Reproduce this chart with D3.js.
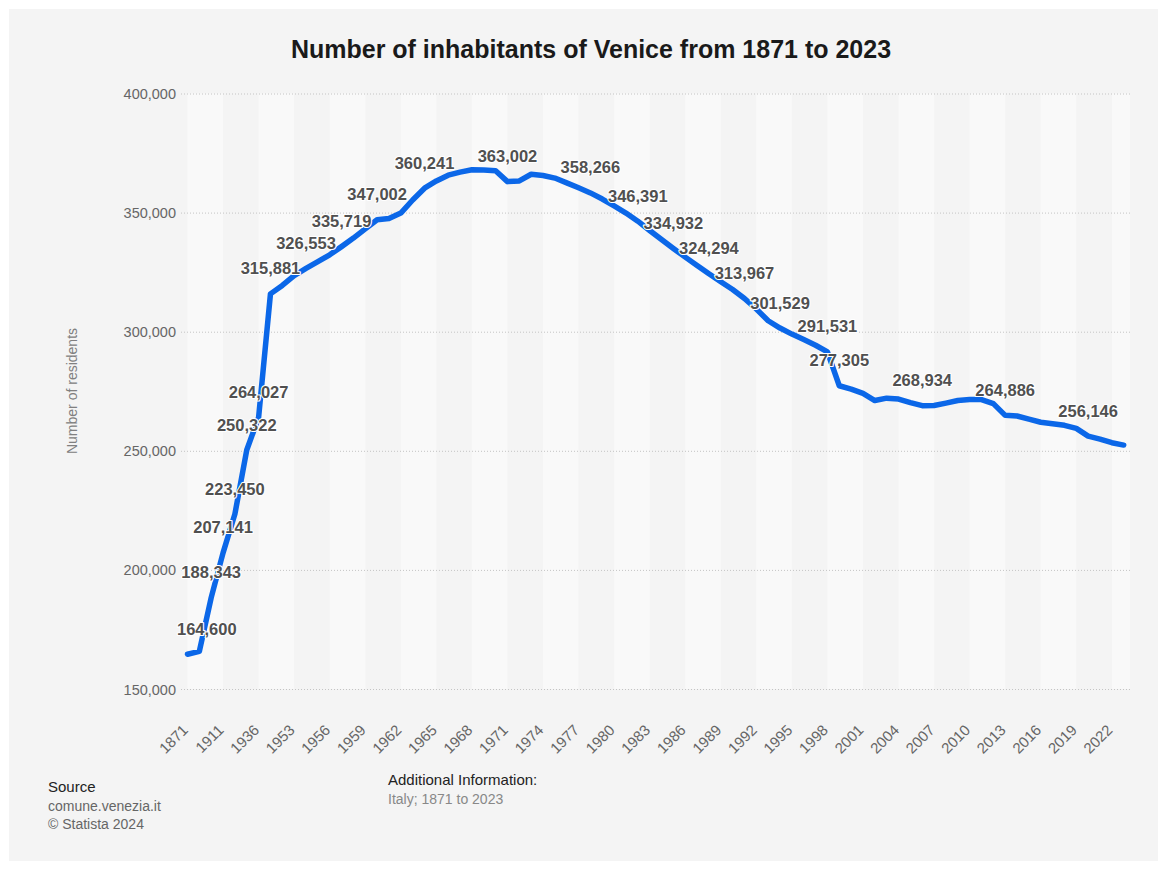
<!DOCTYPE html>
<html>
<head>
<meta charset="utf-8">
<script src="https://cdn.jsdelivr.net/npm/d3@7"></script>
<style>
  html, body { margin: 0; padding: 0; background: #ffffff; }
  svg { display: block; font-family: "Liberation Sans", Arial, Helvetica, sans-serif; }
</style>
</head>
<body>
<svg id="chart" width="1167" height="869"></svg>
<script>
// ---- data ----
const years = ["1871","1881","1901","1911","1921","1931","1936","1951","1952","1953","1954","1955","1956","1957","1958","1959","1960","1961","1962","1963","1964","1965","1966","1967","1968","1969","1970","1971","1972","1973","1974","1975","1976","1977","1978","1979","1980","1981","1982","1983","1984","1985","1986","1987","1988","1989","1990","1991","1992","1993","1994","1995","1996","1997","1998","1999","2000","2001","2002","2003","2004","2005","2006","2007","2008","2009","2010","2011","2012","2013","2014","2015","2016","2017","2018","2019","2020","2021","2022","2023"];
const residents = [164600,165800,188343,207141,223450,250322,264027,315881,319400,323500,326553,329400,332300,335719,339300,343200,347002,347500,349800,355300,360241,363300,365700,367000,368000,367900,367600,363002,363300,366100,365600,364500,362500,360400,358266,355700,352800,349800,346391,342500,338700,334932,331300,327800,324294,321000,317700,313967,309500,304600,301529,299000,296700,294300,291531,277305,275900,274100,271100,272100,271700,270200,268934,269000,270000,271100,271500,271500,269800,264886,264600,263300,262000,261400,260700,259400,256146,254900,253400,252400];
const labeledYears = ["1871","1901","1911","1921","1931","1936","1951","1954","1957","1960","1964","1971","1978","1982","1985","1988","1991","1994","1998","1999","2006","2013","2020"];
const xTickYears = years.filter((d, i) => i % 3 === 0);
const yTicks = [150000, 200000, 250000, 300000, 350000, 400000];

const titleText = "Number of inhabitants of Venice from 1871 to 2023";
const yAxisTitle = "Number of residents";
const sourceLines = ["Source", "comune.venezia.it", "© Statista 2024"];
const infoLines = ["Additional Information:", "Italy; 1871 to 2023"];

// ---- layout ----
const svg = d3.select("#chart");
const plot = { left: 181, right: 1130, top: 93.5, bottom: 689 };

svg.append("rect").attr("x", 9).attr("y", 9).attr("width", 1149).attr("height", 852).attr("fill", "#f4f4f4");

const x = d3.scalePoint().domain(years).range([187.5, 1123.7]);
const y = d3.scaleLinear().domain([150000, 400000]).range([plot.bottom, plot.top]);

// alternating bands between x ticks
const bandIdx = [];
for (let i = 0; i < xTickYears.length; i += 2) bandIdx.push(i);
svg.append("g").selectAll("rect").data(bandIdx).join("rect")
  .attr("x", i => x(xTickYears[i]))
  .attr("width", i => (i + 1 < xTickYears.length ? x(xTickYears[i + 1]) : plot.right) - x(xTickYears[i]))
  .attr("y", plot.top)
  .attr("height", plot.bottom - plot.top)
  .attr("fill", "#f9f9f9");

// y grid + labels
const yAxis = d3.axisLeft(y).tickValues(yTicks).tickFormat(d3.format(",")).tickSize(-(plot.right - plot.left)).tickPadding(5);
const gy = svg.append("g").attr("transform", `translate(${plot.left},0)`).call(yAxis);
gy.select(".domain").remove();
gy.selectAll(".tick line").attr("stroke", "#c4c4c4").attr("stroke-dasharray", "1,2");
gy.selectAll(".tick text").attr("fill", "#666").attr("font-size", "14.5px").attr("x", -5).attr("dy", "0.35em")
  .attr("font-family", "'Liberation Sans', Arial, sans-serif");

// x axis labels
const xAxis = d3.axisBottom(x).tickValues(xTickYears).tickSize(0).tickPadding(0);
const gx = svg.append("g").attr("transform", `translate(0,${plot.bottom})`).call(xAxis);
gx.select(".domain").remove();
gx.selectAll(".tick text")
  .attr("fill", "#666").attr("font-size", "15px")
  .attr("font-family", "'Liberation Sans', Arial, sans-serif")
  .attr("text-anchor", "end").attr("dy", 0).attr("y", 0)
  .attr("transform", "translate(1,42) rotate(-45)");

// line
const line = d3.line().x((d, i) => x(years[i])).y(d => y(d));
svg.append("path").datum(residents)
  .attr("d", line).attr("fill", "none")
  .attr("stroke", "#0b67e8").attr("stroke-width", 5.5)
  .attr("stroke-linejoin", "round").attr("stroke-linecap", "round");

// data labels
const fmt = d3.format(",");
const lbl = svg.append("g").selectAll("text").data(labeledYears).join("text")
  .attr("y", yr => y(residents[years.indexOf(yr)]) - 19.5)
  .attr("text-anchor", "middle")
  .attr("font-size", "16.5px").attr("font-weight", "bold").attr("fill", "#505050")
  .attr("stroke", "#ffffff").attr("stroke-width", 2.2).attr("stroke-linejoin", "round")
  .attr("paint-order", "stroke")
  .text(yr => fmt(residents[years.indexOf(yr)]));
lbl.each(function(yr) {
  const w = this.getComputedTextLength();
  let cx = x(yr);
  if (cx - w / 2 < 177) cx = 177 + w / 2;
  d3.select(this).attr("x", cx);
});

// title
svg.append("text").attr("x", 591).attr("y", 58).attr("text-anchor", "middle")
  .attr("font-size", "25px").attr("font-weight", "bold").attr("fill", "#1a1a1a").text(titleText);

// y axis title
svg.append("text").attr("transform", "translate(77,391) rotate(-90)").attr("text-anchor", "middle")
  .attr("font-size", "14px").attr("fill", "#808080").text(yAxisTitle);

// footer
svg.append("g").selectAll("text").data(sourceLines).join("text")
  .attr("x", 48).attr("y", (d, i) => 792 + i * 18.5)
  .attr("font-size", (d, i) => i === 0 ? "15px" : "14px")
  .attr("fill", (d, i) => i === 0 ? "#222" : "#666").text(d => d);
svg.append("g").selectAll("text").data(infoLines).join("text")
  .attr("x", 388).attr("y", (d, i) => 785 + i * 19)
  .attr("font-size", (d, i) => i === 0 ? "15px" : "14px")
  .attr("fill", (d, i) => i === 0 ? "#222" : "#888").text(d => d);
</script>
</body>
</html>
